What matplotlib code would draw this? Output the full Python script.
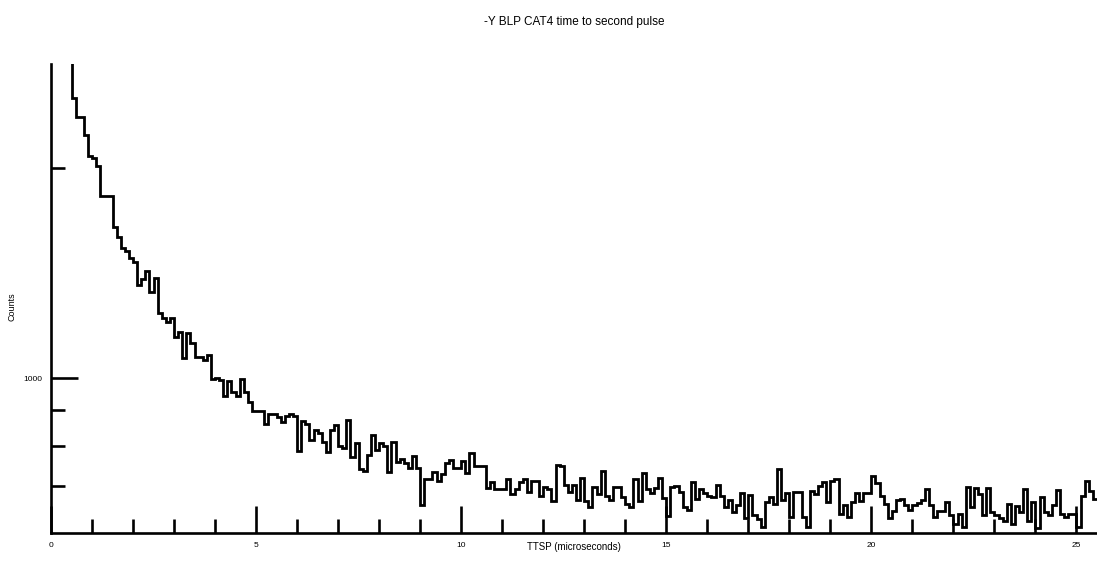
import numpy as np
import matplotlib
matplotlib.use("Agg")
import matplotlib.pyplot as plt
from matplotlib.ticker import NullFormatter

plt.rcParams['font.family'] = ['Liberation Sans', 'DejaVu Sans']

title = "-Y BLP CAT4 time to second pulse"
xlabel = "TTSP (microseconds)"
ylabel = "Counts"

# histogram binning (microseconds)
bin_start = 0.4
bin_width = 0.1

# counts per 0.1 us bin, first bin is off-scale (above the plotted range)
counts = [
    3000,
    2520, 2367, 2367, 2228, 2082, 2065, 2015, 1826, 1826, 1826,
    1645, 1595, 1535, 1520, 1487, 1469, 1362, 1388, 1422, 1328,
    1391, 1242, 1220, 1203, 1221, 1146, 1166, 1068, 1162, 1122,
    1074, 1074, 1062, 1080, 997, 1002, 993, 943, 991, 954,
    943, 997, 954, 923, 898, 898, 898, 860, 890, 890,
    879, 864, 882, 890, 883, 787, 869, 860, 816, 844,
    835, 809, 785, 844, 858, 800, 794, 872, 770, 807,
    741, 737, 776, 830, 790, 807, 799, 733, 811, 759,
    766, 756, 743, 774, 743, 657, 717, 717, 734, 713,
    730, 756, 764, 743, 743, 762, 732, 780, 749, 749,
    748, 697, 711, 693, 693, 693, 718, 683, 694, 710,
    718, 688, 713, 713, 679, 698, 694, 666, 750, 748,
    703, 688, 703, 670, 719, 666, 654, 698, 683, 735,
    679, 670, 698, 698, 675, 661, 654, 717, 666, 731,
    694, 685, 696, 720, 674, 635, 698, 700, 687, 654,
    648, 710, 672, 693, 685, 679, 675, 703, 679, 654,
    668, 643, 657, 685, 630, 681, 637, 629, 612, 664,
    675, 661, 741, 670, 685, 632, 688, 688, 632, 613,
    690, 683, 700, 710, 664, 713, 717, 639, 657, 632,
    664, 685, 667, 685, 685, 725, 708, 679, 661, 630,
    646, 668, 672, 659, 648, 659, 663, 668, 694, 657,
    632, 646, 646, 664, 637, 619, 639, 613, 698, 654,
    696, 683, 636, 696, 643, 636, 631, 625, 661, 619,
    656, 644, 693, 625, 664, 609, 675, 643, 636, 657,
    692, 639, 632, 639, 639, 612, 679, 713, 690, 672,
]

x_major = [0, 5, 10, 15, 20, 25]
x_major_labels = ["0", "5", "10", "15", "20", "25"]
x_minor = list(range(0, 26))
y_major = [1000]
y_major_labels = ["1000"]
y_minor = [700, 800, 900, 2000]

edges = np.round(bin_start + bin_width * np.arange(len(counts) + 1), 3)

fig = plt.figure(figsize=(10.97, 5.61), dpi=100)
ax = fig.add_axes([51 / 1097, 1 - 533 / 561, 1046 / 1097, 469 / 561])

ax.stairs(counts, edges, baseline=None, color='black', linewidth=2.0)

ax.set_yscale('log')
ax.set_xlim(0, 25.5)
ax.set_ylim(600, 2820)

ax.set_xticks(x_major, labels=x_major_labels)
ax.set_xticks(x_minor, minor=True)
ax.set_yticks(y_major, labels=y_major_labels)
ax.set_yticks(y_minor, minor=True)
ax.yaxis.set_minor_formatter(NullFormatter())
ax.xaxis.set_minor_formatter(NullFormatter())

ax.tick_params(which='both', direction='in', width=1.9, labelsize=6, colors='black')
ax.tick_params(which='major', length=19.5, pad=6.5)
ax.tick_params(which='minor', length=10)

for s in ['top', 'right']:
    ax.spines[s].set_visible(False)
for s in ['left', 'bottom']:
    ax.spines[s].set_linewidth(1.9)

ax.set_xlabel(xlabel, fontsize=7)
ax.xaxis.set_label_coords(0.5, -0.019)

fig.text(12 / 1097, 1 - 307 / 561, ylabel, rotation=90, ha='center', va='center', fontsize=6.5)
fig.text(574 / 1097, 1 - 22 / 561, title, ha='center', va='center', fontsize=8.5)

fig.savefig("out.png", dpi=100)
